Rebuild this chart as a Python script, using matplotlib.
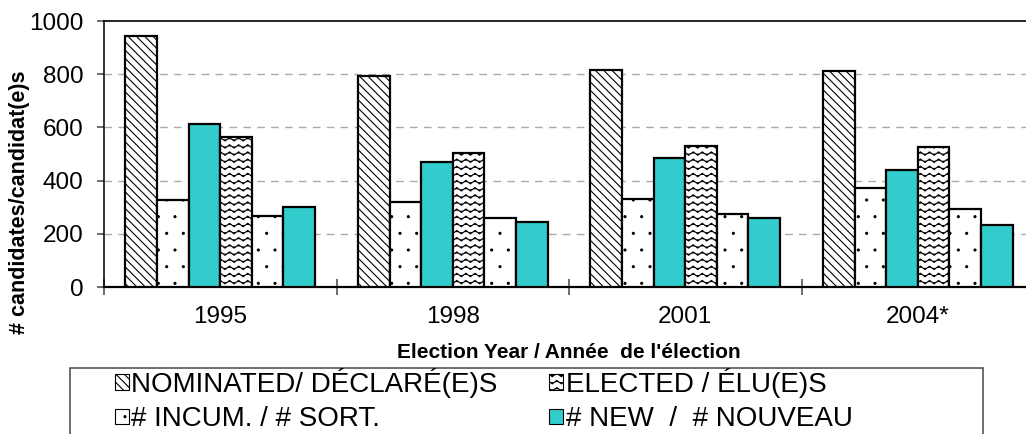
import warnings
import numpy as np
import matplotlib
matplotlib.use('Agg')
import matplotlib.pyplot as plt
import matplotlib.hatch as mhatch
from matplotlib.patches import Patch, Rectangle
from matplotlib.path import Path

warnings.filterwarnings('ignore')

years = ['1995', '1998', '2001', '2004*']
nominated = [943, 793, 815, 812]
incumbents_nom = [327, 321, 330, 371]
new_nom = [613, 469, 484, 440]
elected = [564, 505, 531, 527]
incumbents_el = [267, 261, 273, 293]
new_el = [300, 246, 258, 232]

labels = ['NOMINATED/ DÉCLARÉ(E)S', '# INCUM. / # SORT.',
          'ELECTED / ÉLU(E)S', '# NEW  /  # NOUVEAU']


# wavy hatch pattern, '~' in the hatch string
class WavyHatch(mhatch.HatchPatternBase):
    def __init__(self, hatch, density):
        self.num_rows = int(hatch.count('~') * 7)
        self.num_waves = 11
        self.pts_per_row = self.num_waves * 4 + 1
        self.num_vertices = self.num_rows * self.pts_per_row

    def set_vertices_and_codes(self, vertices, codes):
        if self.num_rows == 0:
            return
        amp = 0.24 / self.num_rows
        xs = np.linspace(0, 1, self.pts_per_row)
        ys = amp * np.sin(xs * self.num_waves * 2 * np.pi)
        k = 0
        for r in range(self.num_rows):
            y0 = (r + 0.5) / self.num_rows
            n = self.pts_per_row
            vertices[k:k + n, 0] = xs
            vertices[k:k + n, 1] = y0 + ys
            codes[k] = Path.MOVETO
            codes[k + 1:k + n] = Path.LINETO
            k += n


mhatch._hatch_types.append(WavyHatch)
mhatch.SmallFilledCircles.size = 0.06

plt.rcParams['font.family'] = ['Liberation Sans', 'DejaVu Sans']
plt.rcParams['hatch.linewidth'] = 0.8
plt.rcParams['hatch.color'] = '#222222'

teal = '#33CCCC'
W, H = 1026, 434
fig = plt.figure(figsize=(W / 100, H / 100), dpi=100)
ax = fig.add_axes([104 / W, 1 - 287 / H, 930 / W, 266 / H])

x = np.arange(len(years))
w = 0.136
series = [
    (nominated, 'white', '\\\\\\\\'),
    (incumbents_nom, 'white', '.'),
    (new_nom, teal, None),
    (elected, 'white', '~~'),
    (incumbents_el, 'white', '.'),
    (new_el, teal, None),
]
for i, (vals, fc, hatch) in enumerate(series):
    ax.bar(x + (i - 2.5) * w, vals, w, color=fc, edgecolor='black',
           linewidth=1.6, hatch=hatch, zorder=3)

ax.set_xlim(-0.5, 3.5)
ax.set_ylim(0, 1000)
ax.set_yticks(np.arange(0, 1001, 200))
ax.set_xticks(x)
ax.set_xticklabels(years, fontsize=17.5)
ax.set_xticks(np.arange(-0.5, 4, 1), minor=True)
ax.tick_params(axis='x', which='major', length=0, pad=14)
ax.tick_params(axis='x', which='minor', direction='inout', length=11,
               width=1.2, color='#555555')
ax.tick_params(axis='y', direction='out', length=5, width=1.2,
               color='#555555', labelsize=17.5, pad=10)
for g in np.arange(200, 1000, 200):
    ax.axhline(g, color='#aaaaaa', linestyle=(0, (5.5, 4.5)), linewidth=1,
               zorder=1)
for s in ['left', 'bottom', 'top']:
    ax.spines[s].set_color('black')
ax.spines['left'].set_linewidth(1.1)
ax.spines['top'].set_linewidth(1.2)
ax.spines['bottom'].set_linewidth(1.6)
ax.spines['right'].set_visible(False)

fig.text(569 / W, 1 - 352 / H, "Election Year / Année  de l'élection",
         ha='center', va='center', fontsize=15, fontweight='bold')
fig.text(20 / W, 1 - 202 / H, '# candidates/candidat(e)s',
         ha='center', va='center', rotation=90, fontsize=15.5,
         fontweight='bold')

# legend box, its bottom is cut by the picture edge
fig.patches.append(Rectangle((70 / W, -0.05), (983 - 70) / W,
                             0.05 + 1 - 368 / H, transform=fig.transFigure,
                             facecolor='white', edgecolor='#555555',
                             linewidth=1.2, zorder=0))
handles = [
    Patch(facecolor='white', edgecolor='black', hatch='\\\\\\\\', linewidth=0.8),
    Patch(facecolor='white', edgecolor='black', hatch='.', linewidth=0.8),
    Patch(facecolor='white', edgecolor='black', hatch='~~', linewidth=0.8),
    Patch(facecolor=teal, edgecolor='black', linewidth=0.8),
]
fig.legend(handles, labels, ncol=2, loc='upper left',
           bbox_to_anchor=(115 / W, 1 - 368 / H), frameon=False,
           fontsize=20, handlelength=0.5, handleheight=0.5,
           handletextpad=0.08, columnspacing=1.87, labelspacing=0.3,
           borderpad=0, borderaxespad=0)

fig.savefig('out.png', dpi=100)
